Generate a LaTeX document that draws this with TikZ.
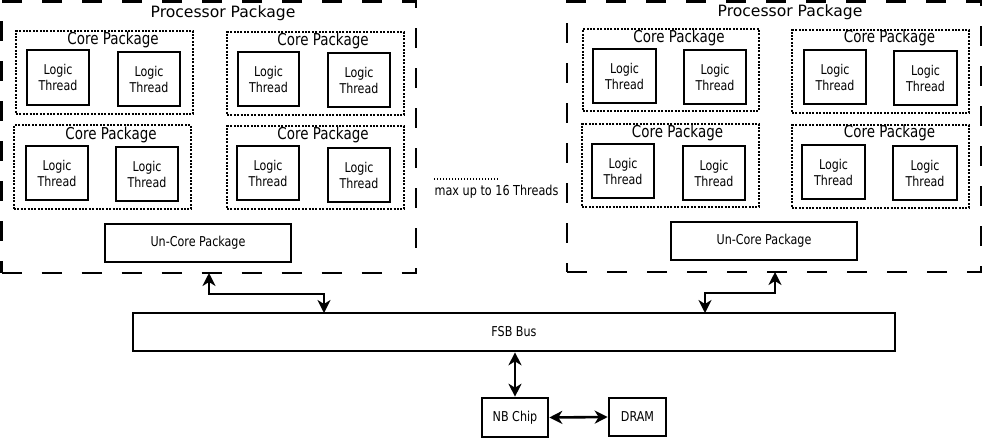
\documentclass[tikz,border=0pt]{standalone}
\usepackage{fontspec}
\setmainfont[FakeStretch=0.82]{DejaVu Sans}
\newfontfamily\ttlfont{DejaVu Sans}
\usetikzlibrary{arrows.meta}
\newcommand\boxat[7]{\node[#1, minimum width={(#5)-(#3)}, minimum height={(#6)-(#4)}] (#2) at ({((#3)+(#5))/2},{((#4)+(#6))/2}) {#7};}
\tikzset{
  pkg/.style={draw, line width=2.6pt, dash pattern=on 20pt off 20pt, inner sep=0pt},
  core/.style={draw, line width=2pt, dash pattern=on 2pt off 1.4pt, inner sep=0pt},
  lt/.style={draw, line width=2.6pt, inner sep=0pt, align=center, font=\fontsize{13.5}{16}\selectfont},
  plainbox/.style={draw, line width=2.6pt, inner sep=0pt, font=\fontsize{13.6}{16}\selectfont},
  ttl/.style={inner sep=0pt, font=\ttlfont\fontsize{15.6}{18}\selectfont},
  ctl/.style={inner sep=0pt, font=\fontsize{16.4}{19}\selectfont},
  note/.style={inner sep=0pt, font=\fontsize{13.7}{16}\selectfont},
  tip/.tip={Stealth[length=13pt,width=13pt,inset=4pt]},
  conn/.style={line width=2.6pt, tip-tip},
}
\begin{document}
\begin{tikzpicture}[x=1pt,y=-1pt]
\fill[white] (0,0) rectangle (986,440);
\useasboundingbox (0,0) rectangle (986,440);
% left processor package
\boxat{pkg}{pl}{1.5}{1.5}{416}{273}{}
\node[ttl] (plt) at (223,13) {Processor Package};
\boxat{core}{lc1}{16}{31}{193}{114}{}
\boxat{core}{lc2}{227}{32}{404}{115}{}
\boxat{core}{lc3}{14}{125}{191}{209}{}
\boxat{core}{lc4}{227}{126}{404}{209}{}
\node[ctl] (lc1t) at (113,40) {Core Package};
\node[ctl] (lc2t) at (323,41) {Core Package};
\node[ctl] (lc3t) at (111,135) {Core Package};
\node[ctl] (lc4t) at (323,135) {Core Package};
\boxat{lt}{l11}{27}{50}{89}{105}{Logic\\Thread}
\boxat{lt}{l12}{118}{52}{180}{106}{Logic\\Thread}
\boxat{lt}{l21}{238}{52}{299}{106}{Logic\\Thread}
\boxat{lt}{l22}{328}{53}{390}{107}{Logic\\Thread}
\boxat{lt}{l31}{26}{146}{88}{200}{Logic\\Thread}
\boxat{lt}{l32}{116}{147}{178}{201}{Logic\\Thread}
\boxat{lt}{l41}{237}{146}{299}{200}{Logic\\Thread}
\boxat{lt}{l42}{328}{148}{390}{202}{Logic\\Thread}
\boxat{plainbox}{lun}{105}{224}{291}{262}{Un-Core Package}
% right processor package
\boxat{pkg}{pr}{567}{1.5}{981}{272}{}
\node[ttl] (prt) at (790,12) {Processor Package};
\boxat{core}{rc1}{583}{29}{759}{111}{}
\boxat{core}{rc2}{792}{30}{969}{113}{}
\boxat{core}{rc3}{582}{124}{759}{207}{}
\boxat{core}{rc4}{792}{125}{969}{208}{}
\node[ctl] (rc1t) at (679,38) {Core Package};
\node[ctl] (rc2t) at (889.5,38) {Core Package};
\node[ctl] (rc3t) at (677.5,133) {Core Package};
\node[ctl] (rc4t) at (889.5,133) {Core Package};
\boxat{lt}{r11}{593}{49}{656}{103}{Logic\\Thread}
\boxat{lt}{r12}{684}{50}{746}{104}{Logic\\Thread}
\boxat{lt}{r21}{804}{50}{866}{104}{Logic\\Thread}
\boxat{lt}{r22}{894}{51}{957}{105}{Logic\\Thread}
\boxat{lt}{r31}{592}{144}{654}{198}{Logic\\Thread}
\boxat{lt}{r32}{683}{146}{745}{200}{Logic\\Thread}
\boxat{lt}{r41}{802}{145}{865}{199}{Logic\\Thread}
\boxat{lt}{r42}{893}{146}{957}{200}{Logic\\Thread}
\boxat{plainbox}{run}{671}{222}{857}{260}{Un-Core Package}
% middle note
\node[note] (maxt) at (496.5,192) {max up to 16 Threads};
\coordinate (d1) at (434,179);
\coordinate (d2) at (499,179);
\draw[line width=1.4pt, dash pattern=on 1.4pt off 1.6pt] (d1) -- (d2);
% bus, chip, memory
\boxat{plainbox}{fsb}{133}{313}{895}{351}{FSB Bus}
\boxat{plainbox}{nb}{482}{398}{548}{437}{NB Chip}
\boxat{plainbox}{dram}{609}{398}{666}{436}{DRAM}
% connectors
\coordinate (la) at (209,273);
\coordinate (lb) at (324,313);
\draw[conn] (la) -- ++(0,21) -| (lb);
\coordinate (ra) at (775,272);
\coordinate (rb) at (705,313);
\draw[conn] (rb) -- ++(0,-20) -| (ra);
\draw[conn] (nb.north |- fsb.south) -- (nb.north);
\draw[conn] (nb.east) -- (dram.west);
\end{tikzpicture}
\end{document}
